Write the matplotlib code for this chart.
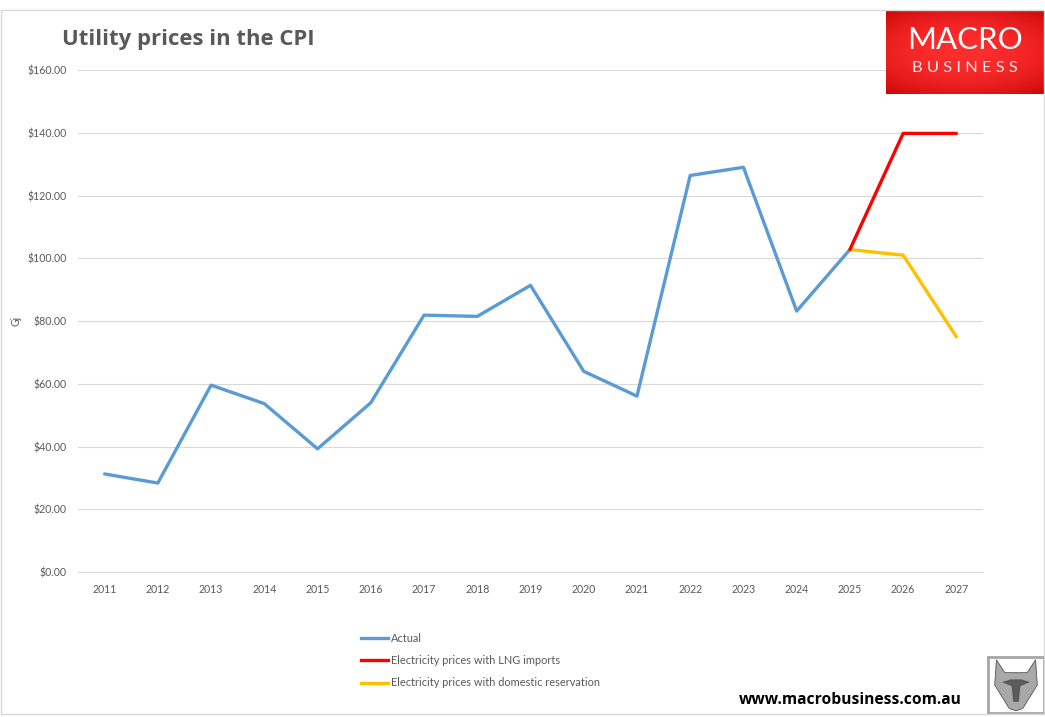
import numpy as np
import matplotlib
matplotlib.use("Agg")
import matplotlib.pyplot as plt
from matplotlib.patches import Rectangle, Polygon

W, H = 1045, 717
years = [str(y) for y in range(2011, 2028)]
actual = [31.3, 28.4, 59.6, 53.7, 39.3, 54.0, 81.9, 81.5, 91.4, 64.0, 56.1, 126.4, 129.0, 83.2, 102.8]
lng = [102.8, 139.8, 139.8]
reservation = [102.8, 101.0, 75.0]
yticks = list(range(0, 161, 20))
title = "Utility prices in the CPI"
ylabel = "Gj"
names = ["Actual", "Electricity prices with LNG imports", "Electricity prices with domestic reservation"]
colors = ["#5B9BD5", "#FF0000", "#FFC000"]

plt.rcParams['font.family'] = ['Lato', 'DejaVu Sans']
fig = plt.figure(figsize=(W/100, H/100), dpi=100)

def box(x0, y0, x1, y1):
    return [x0/W, 1-y1/H, (x1-x0)/W, (y1-y0)/H]

def px(x, y):
    return x/W, 1-y/H

fig.add_artist(Rectangle(px(1, 714), 1043/W, 704/H, transform=fig.transFigure, fill=False, ec="#D9D9D9", lw=1))

ax = fig.add_axes(box(78, 70, 983, 572.2))
x = np.arange(len(years))
lw = 2.4
ax.plot(x[:len(actual)], actual, color=colors[0], lw=lw, solid_capstyle='round', solid_joinstyle='round', zorder=3)
ax.plot(x[14:], reservation, color=colors[2], lw=lw, solid_capstyle='round', zorder=4)
ax.plot(x[14:], lng, color=colors[1], lw=lw, solid_capstyle='round', zorder=4)
ax.set_xlim(-0.5, len(years)-0.5)
ax.set_ylim(0, 160)
ax.set_yticks(yticks)
ax.set_yticklabels([f"${v}.00" for v in yticks], fontsize=7.6, color="#595959")
ax.set_xticks(x)
ax.set_xticklabels(years, fontsize=7.6, color="#595959")
ax.tick_params(length=0)
ax.tick_params(axis='y', pad=8)
ax.tick_params(axis='x', pad=8.5)
ax.grid(axis='y', color="#D9D9D9", lw=0.8)
ax.set_axisbelow(True)
for s in ['top', 'left', 'right']:
    ax.spines[s].set_visible(False)
ax.spines['bottom'].set_color("#D9D9D9")
ax.spines['bottom'].set_linewidth(0.8)

fig.text(*px(16, 321), ylabel, rotation=90, fontsize=7.6, color="#595959", ha='center', va='center')
fig.text(*px(62, 39), title, fontsize=15.9, fontweight='bold', color="#595959", ha='left', va='center', family='Open Sans')

for n, c, yy in zip(names, colors, [638, 660, 683]):
    fig.add_artist(plt.Line2D([361/W, 388/W], [1-yy/H]*2, color=c, lw=lw, transform=fig.transFigure))
    fig.text(*px(391, yy), n, fontsize=7.95, color="#595959", ha='left', va='center')

fig.text(*px(739, 699.5), "www.macrobusiness.com.au", fontsize=11.25, fontweight='bold', color="black", ha='left', va='center', family='Open Sans')

lax = fig.add_axes(box(886, 10, 1044, 94))
g = np.linspace(-1, 1, 64)
gx = np.linspace(-1, 1, 128)
r2 = np.clip(g[:, None]**2 * 0.6 + gx[None, :]**2 * 0.4, 0, 1)
rgb = np.stack([1.0-0.2*r2, 0.18-0.15*r2, 0.18-0.15*r2], axis=-1)
lax.imshow(rgb, aspect='auto', extent=[0, 1, 0, 1])
lax.axis('off')
lax.text(0.5, 0.645, "MACRO", color="white", fontsize=22.5, ha='center', va='center', family='Lato', transform=lax.transAxes)
lax.text(0.5, 0.315, "B U S I N E S S", color="#FBE5E5", fontsize=11.8, ha='center', va='center', family='Lato', transform=lax.transAxes)

wax = fig.add_axes(box(988, 657, 1044, 713))
wax.set_xlim(0, 1); wax.set_ylim(0, 1)
wax.set_xticks([]); wax.set_yticks([])
for s in wax.spines.values():
    s.set_color("#A6A6A6"); s.set_linewidth(2)
wax.add_patch(Polygon([(0.15, 0.95), (0.3, 0.72), (0.7, 0.72), (0.85, 0.95), (0.88, 0.5), (0.62, 0.08), (0.5, 0.04), (0.38, 0.08), (0.12, 0.5)], closed=True, fc="#A8A8A8", ec="#555555", lw=0.6))
wax.add_patch(Polygon([(0.25, 0.55), (0.42, 0.48), (0.45, 0.2), (0.55, 0.2), (0.58, 0.48), (0.75, 0.55), (0.6, 0.6), (0.4, 0.6)], closed=True, fc="#5A5A5A", ec="none"))

fig.savefig("out.png", dpi=100)
